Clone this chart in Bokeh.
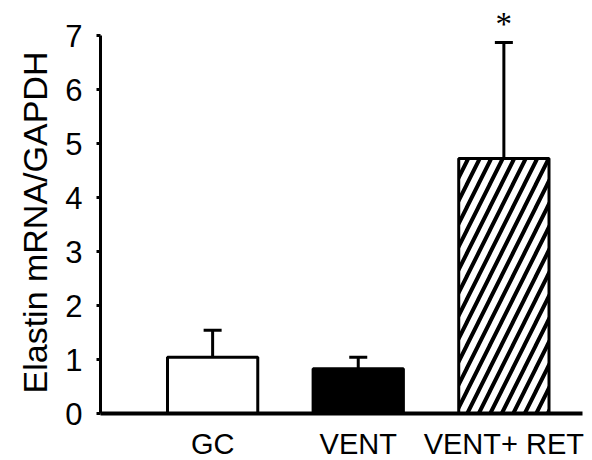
from bokeh.plotting import figure
from bokeh.models import ColumnDataSource, Range1d, FixedTicker, Whisker, TeeHead, Title
from bokeh.embed import file_html
from bokeh.resources import INLINE

# ---- data ----
categories = ["GC", "VENT", "VENT+ RET"]
means = [1.04, 0.83, 4.72]
errors = [0.50, 0.21, 2.15]
significance = ["", "", "*"]
y_ticks = [0, 1, 2, 3, 4, 5, 6, 7]
y_label = "Elastin mRNA/GAPDH"

# ---- styles ----
fills = ["white", "black", "white"]
hatches = [" ", " ", "/"]
FONT = "Liberation Sans"

xs = list(range(len(categories)))
uppers = [m + e for m, e in zip(means, errors)]

src = ColumnDataSource(dict(x=xs, mean=means, upper=uppers, fill=fills,
                            hatch=hatches, sig=significance))

p = figure(frame_width=482, frame_height=405, x_range=Range1d(-0.77, 2.54),
           y_range=Range1d(0, 7.5), output_backend="svg", toolbar_location=None,
           min_border_left=100, min_border_right=10, min_border_top=8,
           min_border_bottom=10)
p.outline_line_color = None
p.xgrid.grid_line_color = None
p.ygrid.grid_line_color = None
p.background_fill_color = "white"
p.border_fill_color = "white"

p.vbar(x="x", top="mean", width=0.62, source=src, fill_color="fill",
       line_color="black", line_width=3, hatch_pattern="hatch",
       hatch_color="black", hatch_weight=4, hatch_scale=23)

wh = Whisker(base="x", upper="upper", lower="mean", source=src,
             line_color="black", line_width=3, level="overlay",
             upper_head=TeeHead(size=18, line_width=3, line_color="black"),
             lower_head=None)
p.add_layout(wh)

p.text(x="x", y="upper", text="sig", source=src, y_offset=-19,
       text_align="center", text_baseline="alphabetic",
       text_font_size="33px", text_color="black", text_font=FONT)

xa = p.xaxis[0]
xa.ticker = FixedTicker(ticks=xs)
xa.major_label_overrides = {i: c for i, c in zip(xs, categories)}
xa.major_tick_line_color = None
xa.major_tick_in = 0
xa.major_tick_out = 0
xa.minor_tick_line_color = None
xa.axis_line_width = 4
xa.axis_line_color = "black"
xa.major_label_text_font = FONT
xa.major_label_text_font_size = "29px"
xa.major_label_text_color = "black"
xa.major_label_standoff = 14

ya = p.yaxis[0]
ya.ticker = FixedTicker(ticks=y_ticks)
ya.bounds = (0, 7)
ya.axis_line_width = 3
ya.axis_line_color = "black"
ya.major_tick_in = 0
ya.major_tick_out = 4
ya.major_tick_line_width = 3
ya.minor_tick_line_color = None
ya.major_label_text_font = FONT
ya.major_label_text_font_size = "31px"
ya.major_label_text_color = "black"
ya.major_label_standoff = 14

ylab = Title(text=y_label, align="left", offset=20, standoff=17,
             text_font=FONT, text_font_size="34px", text_font_style="normal",
             text_color="black")
p.add_layout(ylab, "left")

open("out.html", "w").write(file_html(p, INLINE))
